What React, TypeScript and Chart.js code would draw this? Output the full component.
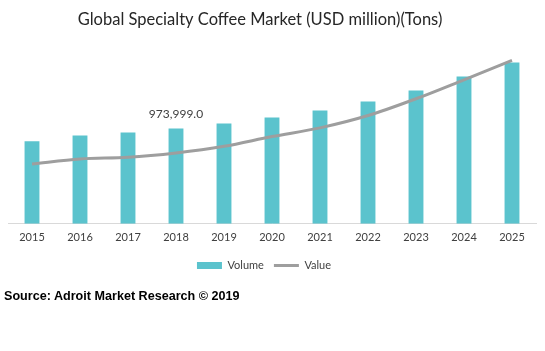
import React, { useEffect, useRef } from 'react';
import { Chart, registerables } from 'chart.js';

Chart.register(...registerables);

const years = ['2015', '2016', '2017', '2018', '2019', '2020', '2021', '2022', '2023', '2024', '2025'];
const volumeTons = [843800, 902300, 933000, 973999, 1025300, 1086800, 1158600, 1250900, 1363700, 1507200, 1650700];
const valueUsdMillion = [6120, 6630, 6800, 7250, 7930, 8920, 9810, 11070, 12790, 14730, 16710];
const annotatedIndex = 3;
const annotatedText = '973,999.0';
const titleText = 'Global Specialty Coffee Market (USD million)(Tons)';
const sourceText = 'Source: Adroit Market Research © 2019';

export default function App() {
  const ref = useRef<HTMLCanvasElement>(null);

  useEffect(() => {
    document.body.style.margin = '0';
    const canvas = ref.current;
    if (!canvas) return;

    const labelPlugin = {
      id: 'singleLabel',
      afterDatasetsDraw(chart: any) {
        const meta = chart.getDatasetMeta(0);
        const el = meta.data[annotatedIndex];
        if (!el) return;
        const ctx = chart.ctx;
        ctx.save();
        ctx.font = '12px Lato';
        ctx.fillStyle = '#404040';
        ctx.textAlign = 'center';
        ctx.textBaseline = 'middle';
        ctx.fillText(annotatedText, el.x, el.y - 14);
        ctx.restore();
      },
    };

    // Title and legend in the original sit slightly left of the canvas centre
    const shiftPlugin = {
      id: 'shiftBlocks',
      afterLayout(chart: any) {
        const t = chart.titleBlock;
        if (t) {
          t.left -= 12;
          t.right -= 12;
        }
        const l = chart.legend;
        if (l) {
          l.left -= 8;
          l.right -= 8;
        }
      },
    };

    const chart = new Chart(canvas, {
      type: 'bar',
      data: {
        labels: years,
        datasets: [
          {
            type: 'bar',
            label: 'Volume',
            data: volumeTons,
            backgroundColor: '#5BC3CD',
            borderWidth: 0,
            yAxisID: 'y',
            order: 1,
            categoryPercentage: 1,
            barPercentage: 0.31,
          } as any,
          {
            type: 'line',
            label: 'Value',
            data: valueUsdMillion,
            borderColor: '#9E9E9E',
            backgroundColor: '#9E9E9E',
            borderWidth: 3,
            pointRadius: 0,
            tension: 0.4,
            cubicInterpolationMode: 'monotone',
            yAxisID: 'y2',
            order: 0,
          } as any,
        ],
      },
      options: {
        responsive: false,
        maintainAspectRatio: false,
        animation: false,
        layout: { padding: { left: 8, right: 9, top: 0, bottom: 70 } },
        plugins: {
          title: {
            display: true,
            text: titleText,
            color: '#262626',
            font: { family: 'Lato', size: 16.5, weight: 'normal' },
            padding: { top: 10, bottom: 18 },
          },
          legend: {
            position: 'bottom',
            labels: {
              usePointStyle: true,
              pointStyleWidth: 25,
              boxHeight: 7,
              padding: 10,
              color: '#404040',
              font: { family: 'Lato', size: 11 },
              generateLabels: (chart: any) =>
                chart.data.datasets.map((ds: any, i: number) => ({
                  text: ds.label,
                  fillStyle: ds.backgroundColor,
                  strokeStyle: ds.borderColor || ds.backgroundColor,
                  lineWidth: ds.type === 'line' ? 3 : 0,
                  pointStyle: ds.type === 'line' ? 'line' : 'rect',
                  datasetIndex: i,
                  hidden: false,
                  fontColor: '#404040',
                })),
            },
          },
          tooltip: { enabled: false },
        },
        scales: {
          x: {
            offset: true,
            grid: { display: false, drawTicks: false },
            border: { display: true, color: '#D9D9D9', width: 1 },
            ticks: { color: '#404040', font: { family: 'Lato', size: 11 }, padding: 7 },
            afterFit: (s: any) => {
              s.height -= 1;
            },
          },
          y: { display: false, min: 0, max: 1800000 },
          y2: { display: false, min: 0, max: 18000 },
        },
      },
      plugins: [labelPlugin, shiftPlugin],
    } as any);

    return () => chart.destroy();
  }, []);

  return (
    <div style={{ position: 'relative', width: 545, height: 351, background: '#fff' }}>
      <canvas ref={ref} width={545} height={351} style={{ display: 'block' }} />
      <div
        style={{
          position: 'absolute',
          left: 4,
          top: 289,
          fontFamily: '"Liberation Sans", Arial, sans-serif',
          fontWeight: 'bold',
          fontSize: 12.6,
          color: '#000',
          whiteSpace: 'nowrap',
        }}
      >
        {sourceText}
      </div>
    </div>
  );
}
